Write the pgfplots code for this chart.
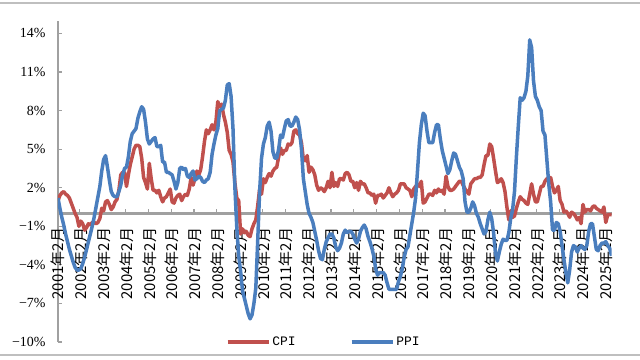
\documentclass[border=0pt]{standalone}
\usepackage{fontspec}
\usepackage{pgfplots}
\usepackage{pgfplotstable}
\pgfplotsset{compat=1.18}
\setmainfont{Liberation Serif}
\newfontfamily\cjk{Noto Sans CJK SC}
\newfontfamily\monof{Liberation Mono}
\definecolor{cpired}{HTML}{C0504D}
\definecolor{ppiblue}{HTML}{4A7EBE}
\definecolor{axgray}{HTML}{A0A0A0}

% monthly values, first row = 2001-02, last row = 2025-05
\pgfplotstableread[row sep=\\]{
cpi\\
1.0\\ 1.4\\ 1.6\\ 1.7\\ 1.5\\ 1.4\\ 1.2\\ 0.8\\ 0.4\\ 0.0\\ -0.3\\
-1.0\\ -0.6\\ -0.8\\ -1.3\\ -1.1\\ -0.8\\ -0.9\\ -0.7\\ -0.7\\ -0.8\\ -0.7\\ -0.4\\
0.4\\ 0.2\\ 0.9\\ 1.0\\ 0.7\\ 0.3\\ 0.5\\ 0.9\\ 1.1\\ 1.8\\ 3.0\\ 3.2\\
3.2\\ 2.1\\ 3.0\\ 3.8\\ 4.4\\ 5.0\\ 5.3\\ 5.3\\ 5.2\\ 4.3\\ 2.8\\ 2.4\\
1.9\\ 3.9\\ 2.7\\ 1.8\\ 1.8\\ 1.6\\ 1.8\\ 1.3\\ 0.9\\ 1.2\\ 1.3\\ 1.6\\
1.9\\ 0.9\\ 0.8\\ 1.2\\ 1.4\\ 1.5\\ 1.0\\ 1.3\\ 1.5\\ 1.4\\ 1.9\\ 2.8\\
2.2\\ 2.7\\ 3.3\\ 3.0\\ 3.4\\ 4.4\\ 5.6\\ 6.5\\ 6.2\\ 6.5\\ 6.9\\ 6.5\\
7.1\\ 8.7\\ 8.3\\ 8.5\\ 7.7\\ 7.1\\ 6.3\\ 4.9\\ 4.6\\ 4.0\\ 2.4\\ 1.2\\
1.0\\ -1.6\\ -1.2\\ -1.5\\ -1.4\\ -1.7\\ -1.8\\ -1.2\\ -0.8\\ -0.5\\ 0.6\\ 1.9\\
1.5\\ 2.7\\ 2.4\\ 2.8\\ 3.1\\ 2.9\\ 3.3\\ 3.5\\ 3.6\\ 4.4\\ 5.1\\ 4.6\\
4.9\\ 4.9\\ 5.4\\ 5.3\\ 5.5\\ 6.4\\ 6.5\\ 6.2\\ 6.1\\ 5.5\\ 4.2\\ 4.1\\
4.5\\ 3.2\\ 3.6\\ 3.4\\ 3.0\\ 2.2\\ 1.8\\ 2.0\\ 1.9\\ 1.7\\ 2.0\\ 2.5\\
2.0\\ 3.2\\ 2.1\\ 2.4\\ 2.1\\ 2.7\\ 2.7\\ 2.6\\ 3.1\\ 3.2\\ 3.0\\ 2.5\\
2.5\\ 2.0\\ 2.4\\ 1.8\\ 2.5\\ 2.3\\ 2.3\\ 2.0\\ 1.6\\ 1.6\\ 1.4\\ 1.5\\
0.8\\ 1.4\\ 1.4\\ 1.5\\ 1.2\\ 1.4\\ 1.6\\ 2.0\\ 1.6\\ 1.3\\ 1.5\\ 1.6\\
1.8\\ 2.3\\ 2.3\\ 2.3\\ 2.0\\ 1.9\\ 1.8\\ 1.3\\ 1.9\\ 2.1\\ 2.3\\ 2.1\\
2.5\\ 0.8\\ 0.9\\ 1.2\\ 1.5\\ 1.5\\ 1.4\\ 1.8\\ 1.6\\ 1.9\\ 1.7\\ 1.8\\
1.5\\ 2.9\\ 2.1\\ 1.8\\ 1.8\\ 1.9\\ 2.1\\ 2.3\\ 2.5\\ 2.5\\ 2.2\\ 1.9\\
1.7\\ 1.5\\ 2.3\\ 2.5\\ 2.7\\ 2.7\\ 2.8\\ 2.8\\ 3.0\\ 3.8\\ 4.5\\ 4.5\\
5.4\\ 5.2\\ 4.3\\ 3.3\\ 2.4\\ 2.5\\ 2.7\\ 2.4\\ 1.7\\ 0.5\\ -0.5\\ 0.2\\
-0.3\\ -0.2\\ 0.4\\ 0.9\\ 1.3\\ 1.1\\ 1.0\\ 0.8\\ 0.7\\ 1.5\\ 2.3\\ 1.5\\
0.9\\ 0.9\\ 1.5\\ 2.1\\ 2.1\\ 2.5\\ 2.7\\ 2.5\\ 2.8\\ 2.1\\ 1.6\\ 1.8\\
2.1\\ 1.0\\ 0.7\\ 0.1\\ 0.2\\ 0.0\\ -0.3\\ 0.1\\ 0.0\\ -0.2\\ -0.5\\ -0.3\\
-0.8\\ 0.7\\ 0.1\\ 0.3\\ 0.3\\ 0.2\\ 0.5\\ 0.6\\ 0.4\\ 0.3\\ 0.2\\ 0.1\\
0.5\\ -0.7\\ -0.1\\ -0.1\\ -0.1\\
}\cpitab

\pgfplotstableread[row sep=\\]{
ppi\\
1.2\\ 0.4\\ -0.3\\ -0.9\\ -1.6\\ -2.2\\ -2.8\\ -3.3\\ -3.8\\ -4.2\\ -4.4\\
-4.4\\ -4.3\\ -3.9\\ -3.4\\ -2.8\\ -2.2\\ -1.6\\ -1.0\\ -0.3\\ 0.5\\ 1.3\\ 2.1\\
3.3\\ 4.2\\ 4.5\\ 3.6\\ 2.6\\ 1.7\\ 1.4\\ 1.3\\ 1.3\\ 1.7\\ 2.2\\ 3.0\\
3.5\\ 3.6\\ 4.4\\ 5.6\\ 6.2\\ 6.4\\ 6.6\\ 7.4\\ 7.9\\ 8.3\\ 8.1\\ 7.1\\
5.8\\ 5.4\\ 5.6\\ 5.8\\ 5.9\\ 5.2\\ 5.2\\ 5.3\\ 4.0\\ 4.0\\ 3.2\\ 3.2\\
3.1\\ 3.0\\ 2.5\\ 1.9\\ 2.4\\ 3.5\\ 3.6\\ 3.4\\ 3.5\\ 2.9\\ 2.8\\ 3.1\\
3.3\\ 2.6\\ 2.7\\ 2.9\\ 2.8\\ 2.5\\ 2.4\\ 2.6\\ 2.7\\ 3.2\\ 4.6\\ 5.4\\
6.1\\ 6.6\\ 8.0\\ 8.1\\ 8.2\\ 8.8\\ 10.0\\ 10.1\\ 9.1\\ 6.6\\ 2.0\\ -1.1\\
-3.3\\ -4.5\\ -6.0\\ -6.6\\ -7.2\\ -7.8\\ -8.2\\ -7.9\\ -7.0\\ -5.8\\ -2.1\\ 1.7\\
4.3\\ 5.4\\ 5.9\\ 6.8\\ 7.1\\ 6.4\\ 4.8\\ 4.3\\ 4.3\\ 5.0\\ 6.1\\ 5.9\\
6.6\\ 7.2\\ 7.3\\ 6.8\\ 6.8\\ 7.1\\ 7.5\\ 7.3\\ 6.5\\ 5.0\\ 2.7\\ 1.7\\
0.7\\ 0.0\\ -0.3\\ -0.7\\ -1.4\\ -2.1\\ -2.9\\ -3.5\\ -3.6\\ -2.8\\ -2.2\\ -1.9\\
-1.6\\ -1.6\\ -1.9\\ -2.6\\ -2.9\\ -2.7\\ -2.3\\ -1.6\\ -1.3\\ -1.5\\ -1.4\\ -1.4\\
-1.6\\ -2.0\\ -2.3\\ -2.0\\ -1.4\\ -1.1\\ -0.9\\ -1.2\\ -1.8\\ -2.2\\ -2.7\\ -3.3\\
-4.3\\ -4.8\\ -4.6\\ -4.6\\ -4.6\\ -4.8\\ -5.4\\ -5.9\\ -5.9\\ -5.9\\ -5.9\\ -5.9\\
-5.3\\ -4.9\\ -4.3\\ -3.4\\ -2.8\\ -2.6\\ -1.7\\ -0.8\\ 0.1\\ 1.2\\ 3.3\\ 5.5\\
6.9\\ 7.8\\ 7.6\\ 6.4\\ 5.5\\ 5.5\\ 5.5\\ 6.3\\ 6.9\\ 6.9\\ 5.8\\ 4.9\\
4.3\\ 3.7\\ 3.1\\ 3.4\\ 4.1\\ 4.7\\ 4.6\\ 4.1\\ 3.6\\ 3.3\\ 2.7\\ 0.9\\
0.1\\ 0.1\\ 0.4\\ 0.9\\ 0.6\\ 0.0\\ -0.3\\ -0.8\\ -1.2\\ -1.6\\ -1.4\\ -0.5\\
0.1\\ -0.4\\ -1.5\\ -3.1\\ -3.7\\ -3.0\\ -2.4\\ -2.0\\ -2.1\\ -2.1\\ -1.5\\ -0.4\\
0.3\\ 1.7\\ 4.4\\ 6.8\\ 9.0\\ 8.8\\ 9.0\\ 9.5\\ 10.7\\ 13.5\\ 12.9\\ 10.3\\
9.1\\ 8.8\\ 8.3\\ 8.0\\ 6.4\\ 6.1\\ 4.2\\ 2.3\\ 0.9\\ -1.3\\ -1.3\\ -0.7\\
-0.8\\ -1.4\\ -2.5\\ -3.6\\ -4.6\\ -5.4\\ -4.4\\ -3.0\\ -2.5\\ -2.6\\ -3.0\\ -2.7\\
-2.5\\ -2.7\\ -2.8\\ -2.5\\ -1.4\\ -0.8\\ -0.8\\ -1.8\\ -2.8\\ -2.9\\ -2.5\\ -2.3\\
-2.3\\ -2.2\\ -2.5\\ -2.7\\ -3.3\\
}\ppitab

\begin{document}
\begin{tikzpicture}[x=1bp,y=1bp]
\begin{axis}[
  name=ax,
  scale only axis, width=553.5bp, height=321.4bp,
  xmin=0, xmax=291, ymin=-10, ymax=15,
  enlargelimits=false,
  axis x line=middle, axis y line=left,
  hide obscured x ticks=false,
  hide obscured y ticks=false,
  x axis line style={-, draw=axgray, line width=3bp},
  y axis line style={-, draw=axgray, line width=2.5bp},
  xtick={0,12,...,288},
  xticklabels={2001年2月,2002年2月,2003年2月,2004年2月,2005年2月,2006年2月,2007年2月,2008年2月,2009年2月,2010年2月,2011年2月,2012年2月,2013年2月,2014年2月,2015年2月,2016年2月,2017年2月,2018年2月,2019年2月,2020年2月,2021年2月,2022年2月,2023年2月,2024年2月,2025年2月},
  major x tick style={draw=none},
  minor xtick={11.5,23.5,...,287.5},
  minor x tick style={draw=axgray, line width=1.2bp},
  minor tick length=4bp,
  xtick align=inside,
  xticklabel style={font=\cjk\fontsize{15}{15}\selectfont, rotate=90, anchor=east, text=black},
  xticklabel shift=11bp,
  ytick={-10,-7,...,14},
  yticklabels={−10\%,−7\%,−4\%,−1\%,2\%,5\%,8\%,11\%,14\%},
  ytick align=inside,
  major y tick style={draw=axgray, line width=1.2bp},
  major tick length=3.5bp,
  yticklabel style={font=\fontsize{14}{14}\selectfont, text=black},
  yticklabel shift=9bp,
  legend style={at={(axis cs:88.3,-10)}, anchor=west, draw=none, fill=none,
    inner sep=0pt, outer sep=0pt, legend columns=2,
    font=\monof\fontsize{13}{13}\selectfont,
    /tikz/every even column/.append style={column sep=52bp}},
  legend image code/.code={\draw[#1, line width=3.5bp] (0bp,0bp) -- (41bp,0bp);},
  legend cell align=left,
]
\addplot[cpired, line width=3.5bp, line join=round, no markers] table[x expr=\coordindex, y=cpi] {\cpitab};
\addlegendentry{CPI}
\addplot[ppiblue, line width=3.5bp, line join=round, no markers] table[x expr=\coordindex, y=ppi] {\ppitab};
\addlegendentry{PPI}
\coordinate (o) at (rel axis cs:0,0);
\end{axis}
\pgfresetboundingbox
\path[use as bounding box, shift={(o)}] (-58,-17) rectangle (582,342);
\draw[shift={(o)}, line width=2bp, color=gray!50] (-58,339) -- (582,339);
\draw[shift={(o)}, line width=2bp, color=gray!50] (-58,-13) -- (582,-13);
\end{tikzpicture}
\end{document}
